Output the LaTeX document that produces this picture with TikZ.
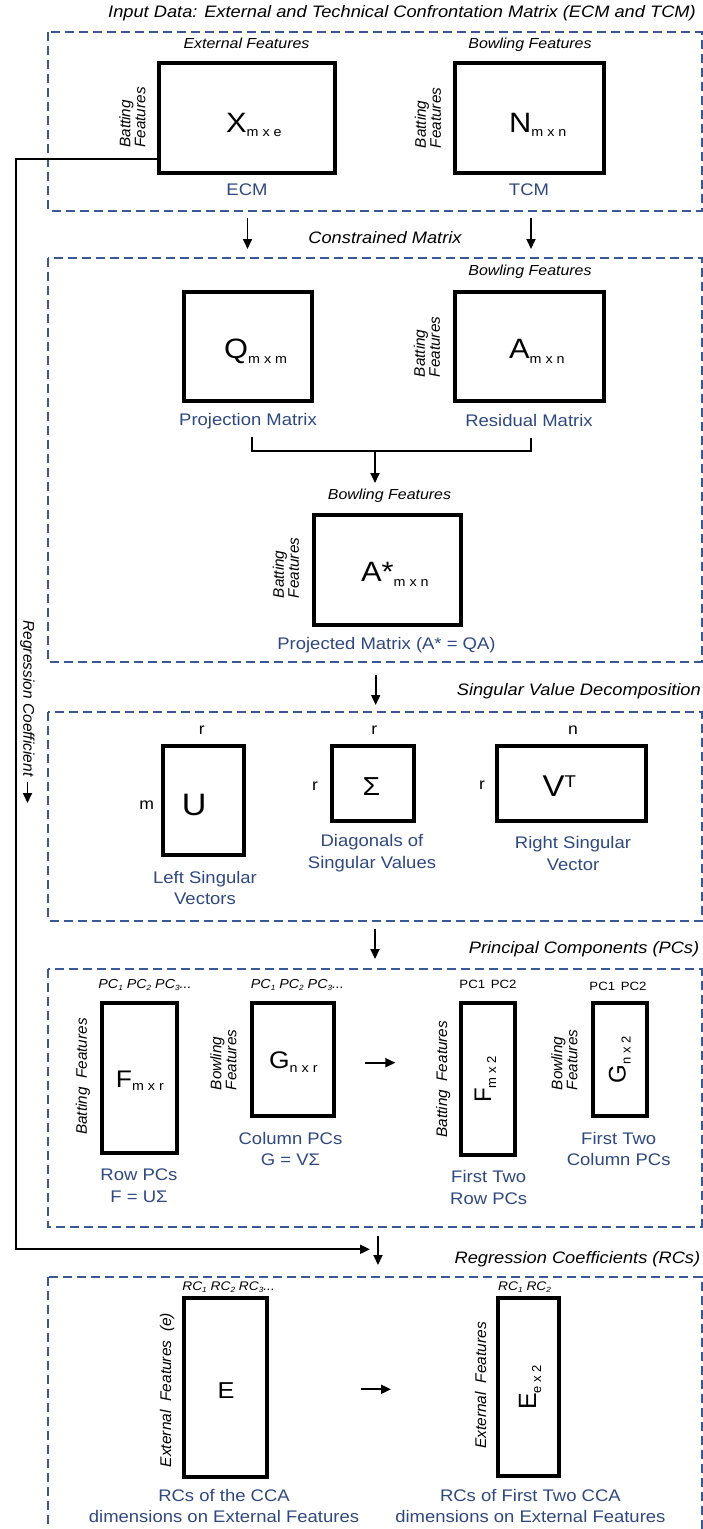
\documentclass[tikz,border=0pt]{standalone}
\usepackage{fontspec}
\setmainfont{Liberation Sans}[FakeStretch=1.1]
\newfontfamily\rfont{Liberation Sans}
\usetikzlibrary{arrows.meta}
\definecolor{lblue}{RGB}{47,72,128}
\definecolor{dblue}{RGB}{58,88,150}
\newcommand\myfs[2]{\fontsize{#1}{#2}\selectfont}
\newcommand\sbs[1]{\raisebox{-1.5pt}{\myfs{7.5}{7.5}#1}}
\newcommand\msub[2]{\raisebox{-#1pt}{\myfs{13}{13}#2}}
\tikzset{
  dbox/.style={draw=dblue, line width=2pt, dash pattern=on 9pt off 5pt},
  mat/.style={draw, line width=4pt, inner sep=0pt, outer sep=0pt},
  blbl/.style={text=lblue, font=\myfs{16.8}{21.5}, align=center, inner sep=0pt},
  feat/.style={font=\itshape\myfs{14.5}{16}, inner sep=0pt, anchor=mid},
  rfeat/.style={font=\rfont\itshape\myfs{15.3}{15}, inner sep=0pt, align=left, rotate=90},
  sect/.style={font=\itshape\myfs{16.6}{18}, inner sep=0pt},
  dimlbl/.style={font=\myfs{16}{16}, inner sep=0pt, anchor=mid},
  let/.style={inner sep=0pt, anchor=base west},
  rlet/.style={inner sep=0pt, anchor=base west, rotate=90},
  pcl/.style={font=\itshape\myfs{13}{13}, inner sep=0pt, anchor=mid},
  pcu/.style={font=\myfs{12}{12}, inner sep=0pt, anchor=mid},
  conn/.style={line width=1.8pt},
  arr/.style={conn, -{Triangle[length=10pt,width=9pt]}},
}
\begin{document}
\begin{tikzpicture}[x=1pt,y=-1pt]
\useasboundingbox (0,0) rectangle (703,1529);
\clip (0,0) rectangle (703,1529);

% ---------- dashed section frames ----------
\draw[dbox] (48,32.3) rectangle (701.5,210.7);
\draw[dbox] (48,257.7) rectangle (701.5,661.7);
\draw[dbox] (48,712.3) rectangle (701.5,920.7);
\draw[dbox] (48,969) rectangle (701.5,1226.7);
\draw[dbox] (48,1276.7) rectangle (701.5,1545);

% ---------- section titles ----------
\node[sect, anchor=mid east] (t1) at (696,15) {Input Data: External and Technical Confrontation Matrix (ECM and TCM)};
\node[sect, anchor=mid] (t2) at (385,240.7) {Constrained Matrix};
\node[sect, anchor=mid east] (t3) at (701,693) {Singular Value Decomposition};
\node[sect, anchor=mid east] (t4) at (699.4,950.7) {Principal Components (PCs)};
\node[sect, anchor=mid east] (t5) at (700.4,1260.7) {Regression Coefficients (RCs)};

% ---------- section 1 ----------
\node[mat, minimum width=176pt, minimum height=110.3pt] (X) at (247,117.9) {};
\node[mat, minimum width=149pt, minimum height=110pt] (N) at (529.5,118) {};
\node[let, font=\myfs{28}{28}] (Xt) at (226,132) {X\msub{4}{m x e}};
\node[let, font=\myfs{28}{28}] (Nt) at (509,132) {N\msub{4}{m x n}};
\node[feat] (f1) at (246.5,45.7) {External Features};
\node[feat] (f2) at (530,46) {Bowling Features};
\node[rfeat] (r1) at (132.3,117.5) {Batting\\Features};
\node[rfeat] (r2) at (427.8,118) {Batting\\Features};
\node[blbl, anchor=mid] (ECM) at (247,193) {ECM};
\node[blbl, anchor=mid] (TCM) at (529,193) {TCM};

% ---------- section 2 ----------
\node[mat, minimum width=128.5pt, minimum height=109pt] (Q) at (247.8,346.5) {};
\node[mat, minimum width=149pt, minimum height=109pt] (A) at (529.5,346.5) {};
\node[let, font=\myfs{28}{28}] (Qt) at (224,358) {Q\msub{5}{m x m}};
\node[let, font=\myfs{28}{28}] (At) at (509,358) {A\msub{5}{m x n}};
\node[feat] (f3) at (530,273) {Bowling Features};
\node[rfeat] (r3) at (427,347) {Batting\\Features};
\node[blbl, anchor=mid] (PM) at (248,422.7) {Projection Matrix};
\node[blbl, anchor=mid] (RM) at (529,424) {Residual Matrix};
\node[mat, minimum width=147.5pt, minimum height=110.5pt] (As) at (387.3,570) {};
\node[let, font=\myfs{28}{28}] (Ast) at (361,581.7) {A*\msub{5}{m x n}};
\node[feat] (f4) at (389.5,497) {Bowling Features};
\node[rfeat] (r4) at (285.8,568) {Batting\\Features};
\node[blbl, anchor=mid] (PJ) at (386.5,646.7) {Projected Matrix (A* = QA)};

% ---------- section 3 ----------
\node[mat, minimum width=80.5pt, minimum height=108.5pt] (U) at (203.5,800.3) {};
\node[mat, minimum width=82.5pt, minimum height=74.7pt] (S) at (372.8,783.3) {};
\node[mat, minimum width=148.5pt, minimum height=74.7pt] (V) at (571.6,783.3) {};
\node[let, font=\myfs{31}{31}] (Ut) at (181.6,815) {U};
\node[let, font=\myfs{26}{26}] (St) at (362.5,795) {Σ};
\node[let, font=\myfs{30}{30}] (Vt) at (542.5,796.7) {V\raisebox{9pt}{\myfs{17}{17}T}};
\node[dimlbl] (d1) at (201.7,731.7) {r};
\node[dimlbl] (d2) at (146.6,806.7) {m};
\node[dimlbl] (d3) at (374.4,731.7) {r};
\node[dimlbl] (d4) at (315,787.7) {r};
\node[dimlbl] (d5) at (573,731.7) {n};
\node[dimlbl] (d6) at (482,787) {r};
\node[blbl] (LS) at (205,888) {Left Singular\\Vectors};
\node[blbl] (DS) at (372,853.3) {Diagonals of\\Singular Values};
\node[blbl] (RS) at (573,853.3) {Right Singular\\Vector};

% ---------- section 4 ----------
\node[mat, minimum width=75pt, minimum height=150.3pt] (F) at (139,1077.8) {};
\node[mat, minimum width=82.5pt, minimum height=113.5pt] (G) at (293,1059.5) {};
\node[mat, minimum width=54.5pt, minimum height=152.5pt] (F2) at (487.8,1079) {};
\node[mat, minimum width=54pt, minimum height=113.5pt] (G2) at (620,1059.5) {};
\node[let, font=\myfs{24}{24}] (Ft) at (115.7,1087) {F\msub{3}{m x r}};
\node[let, font=\myfs{24}{24}] (Gt) at (269,1068) {G\msub{4}{n x r}};
\node[rlet, font=\rfont\myfs{24}{24}] (F2t) at (491,1103) {F\raisebox{-5pt}{\myfs{13}{13}m x 2}};
\node[rlet, font=\rfont\myfs{24}{24}] (G2t) at (625.5,1083.3) {G\raisebox{-5pt}{\myfs{13}{13}n x 2}};
\node[pcl] (p1) at (145,986) {PC\sbs{1} PC\sbs{2} PC\sbs{3}...};
\node[pcl] (p2) at (297.5,986) {PC\sbs{1} PC\sbs{2} PC\sbs{3}...};
\node[pcu] (p3) at (488,986) {PC1 \,PC2};
\node[pcu] (p4) at (618,987.7) {PC1 \,PC2};
\node[rfeat] (r5) at (83,1076.5) {Batting\ \ Features};
\node[rfeat] (r6) at (223.5,1060) {Bowling\\Features};
\node[rfeat] (r7) at (443.2,1079.2) {Batting\ \ Features};
\node[rfeat] (r8) at (564.3,1060) {Bowling\\Features};
\node[blbl] (RP) at (139,1185.5) {Row PCs\\F = UΣ};
\node[blbl] (CP) at (290.5,1148.8) {Column PCs\\G = VΣ};
\node[blbl] (FR) at (488.7,1187.5) {First Two\\Row PCs};
\node[blbl] (FC) at (618.7,1148.8) {First Two\\Column PCs};

% ---------- section 5 ----------
\node[mat, minimum width=83.5pt, minimum height=179.5pt] (E) at (225.3,1387.7) {};
\node[mat, minimum width=61pt, minimum height=178.5pt] (E2) at (528,1387.2) {};
\node[let, font=\myfs{23}{23}] (Et) at (217.5,1398.3) {E};
\node[rlet, font=\rfont\myfs{25}{25}] (E2t) at (536,1410) {E\raisebox{-5pt}{\myfs{13}{13}e x 2}};
\node[pcl, font=\itshape\myfs{12.5}{12.5}] (q1) at (228.6,1288.3) {RC\sbs{1} RC\sbs{2} RC\sbs{3}...};
\node[pcl, font=\itshape\myfs{12.5}{12.5}] (q2) at (524.6,1288.3) {RC\sbs{1} RC\sbs{2}};
\node[rfeat, font=\rfont\itshape\myfs{15.5}{15.5}] (r9) at (167,1390) {External\ \ Features\ \ (e)};
\node[rfeat, font=\rfont\itshape\myfs{15.5}{15.5}] (r10) at (480.5,1385.5) {External\ \ Features};
\node[blbl] (RC1) at (224,1506.2) {RCs of the CCA\\dimensions on External Features};
\node[blbl] (RC2) at (530.4,1506.2) {RCs of First Two CCA\\dimensions on External Features};

% ---------- regression coefficient path ----------
\node[font=\rfont\itshape\myfs{15.5}{15.5}, inner sep=0pt, rotate=-90] (rc) at (27.5,698.5) {Regression Coefficient};
\coordinate (rca) at (27.5,803);
\draw[arr, shorten <=5pt] (rc.east) -- (rc.east |- rca);
\coordinate (lc) at (16,700);
\coordinate (rcend) at (370,1249.3);
\draw[arr] ([yshift=14pt]X.south west) -| (lc) |- (rcend);

% ---------- flow arrows ----------
\coordinate (a1s) at (247.5,218); \coordinate (a1e) at (247.5,249);
\coordinate (a2s) at (531,218);   \coordinate (a2e) at (531,249);
\draw[arr] (a1s) -- (a1e);
\draw[arr] (a2s) -- (a2e);
\coordinate (b1) at (252,436.7);
\coordinate (b2) at (531,438);
\coordinate (bm) at (375,451);
\coordinate (bme) at (375,483);
\draw[conn] (b1) |- (bm) -| (b2);
\draw[arr] (bm) -- (bme);
\coordinate (a3s) at (375.7,675); \coordinate (a3e) at (375.7,705);
\draw[arr] (a3s) -- (a3e);
\coordinate (a4s) at (375,929); \coordinate (a4e) at (375,959);
\draw[arr] (a4s) -- (a4e);
\coordinate (a5s) at (378,1236); \coordinate (a5e) at (378,1265);
\draw[arr] (a5s) -- (a5e);
\coordinate (h1s) at (365.4,1062.7); \coordinate (h1e) at (395.4,1062.7);
\draw[arr] (h1s) -- (h1e);
\coordinate (h2s) at (361,1389.3); \coordinate (h2e) at (391,1389.3);
\draw[arr] (h2s) -- (h2e);
\end{tikzpicture}
\end{document}
